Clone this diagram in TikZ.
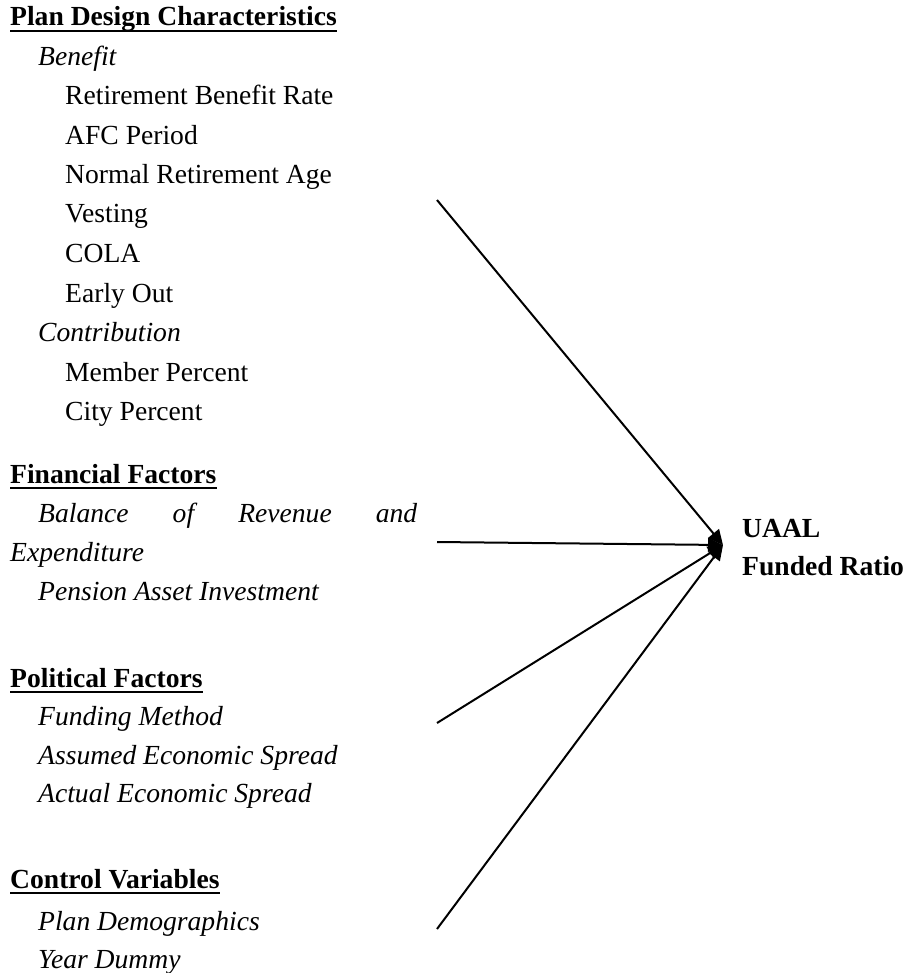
\documentclass[tikz,border=0pt]{standalone}
\usepackage{fontspec}
\setmainfont{Liberation Serif}
\usetikzlibrary{arrows.meta}
\begin{document}
\begin{tikzpicture}[x=1pt,y=-1pt,
    txt/.style={anchor=base west,inner sep=0pt,font=\fontsize{27.6}{39.4}\selectfont},
    hd/.style={txt,font=\fontsize{27.6}{39.4}\selectfont\bfseries},
    itm/.style={txt,font=\fontsize{27.6}{39.4}\selectfont\itshape},
    uline/.style={line width=2.5pt},
    link/.style={line width=2pt,-{Triangle[length=15pt,width=14pt]}}]
    \useasboundingbox (0,0) rectangle (908,973);

    % left column
    \node[hd] (plan) at (10,26) {Plan Design Characteristics};
    \node[itm] (benefit) at (38,66) {Benefit};
    \node[txt] (rate) at (65,105) {Retirement Benefit Rate};
    \node[txt] (afc) at (65,145) {AFC Period};
    \node[txt] (nra) at (65,184) {Normal Retirement Age};
    \node[txt] (vesting) at (65,223) {Vesting};
    \node[txt] (cola) at (65,263) {COLA};
    \node[txt] (earlyout) at (65,302) {Early Out};
    \node[itm] (contrib) at (38,341) {Contribution};
    \node[txt] (member) at (65,381) {Member Percent};
    \node[txt] (city) at (65,420) {City Percent};

    \node[hd] (fin) at (10,483) {Financial Factors};
    \node[itm] (balance) at (38,522) {\makebox[379pt][s]{Balance of Revenue and}};
    \node[itm] (expend) at (10,561) {Expenditure};
    \node[itm] (pension) at (38,600) {Pension Asset Investment};

    \node[hd] (pol) at (10,687) {Political Factors};
    \node[itm] (funding) at (38,725) {Funding Method};
    \node[itm] (assumed) at (38,764) {Assumed Economic Spread};
    \node[itm] (actual) at (38,802) {Actual Economic Spread};

    \node[hd] (ctrl) at (10,888) {Control Variables};
    \node[itm] (demog) at (38,930) {Plan Demographics};
    \node[itm] (year) at (38,968) {Year Dummy};

    \foreach \h in {plan,fin,pol,ctrl}
        \draw[uline] ([yshift=-5pt]\h.base west) -- ([yshift=-5pt]\h.base east);

    % right side
    \node[hd] (uaal) at (742,537) {UAAL};
    \node[hd] (funded) at (742,575) {Funded Ratio};

    % arrows
    \coordinate (s1) at (437,200);
    \coordinate (s2) at (437,542);
    \coordinate (s3) at (437,723);
    \coordinate (s4) at (437,929);
    \coordinate (tip) at (723,545);
    \draw[link] (s1) -- (tip);
    \draw[link] (s2) -- (tip);
    \draw[link] (s3) -- (tip);
    \draw[link] (s4) -- (tip);

\end{tikzpicture}
\end{document}
